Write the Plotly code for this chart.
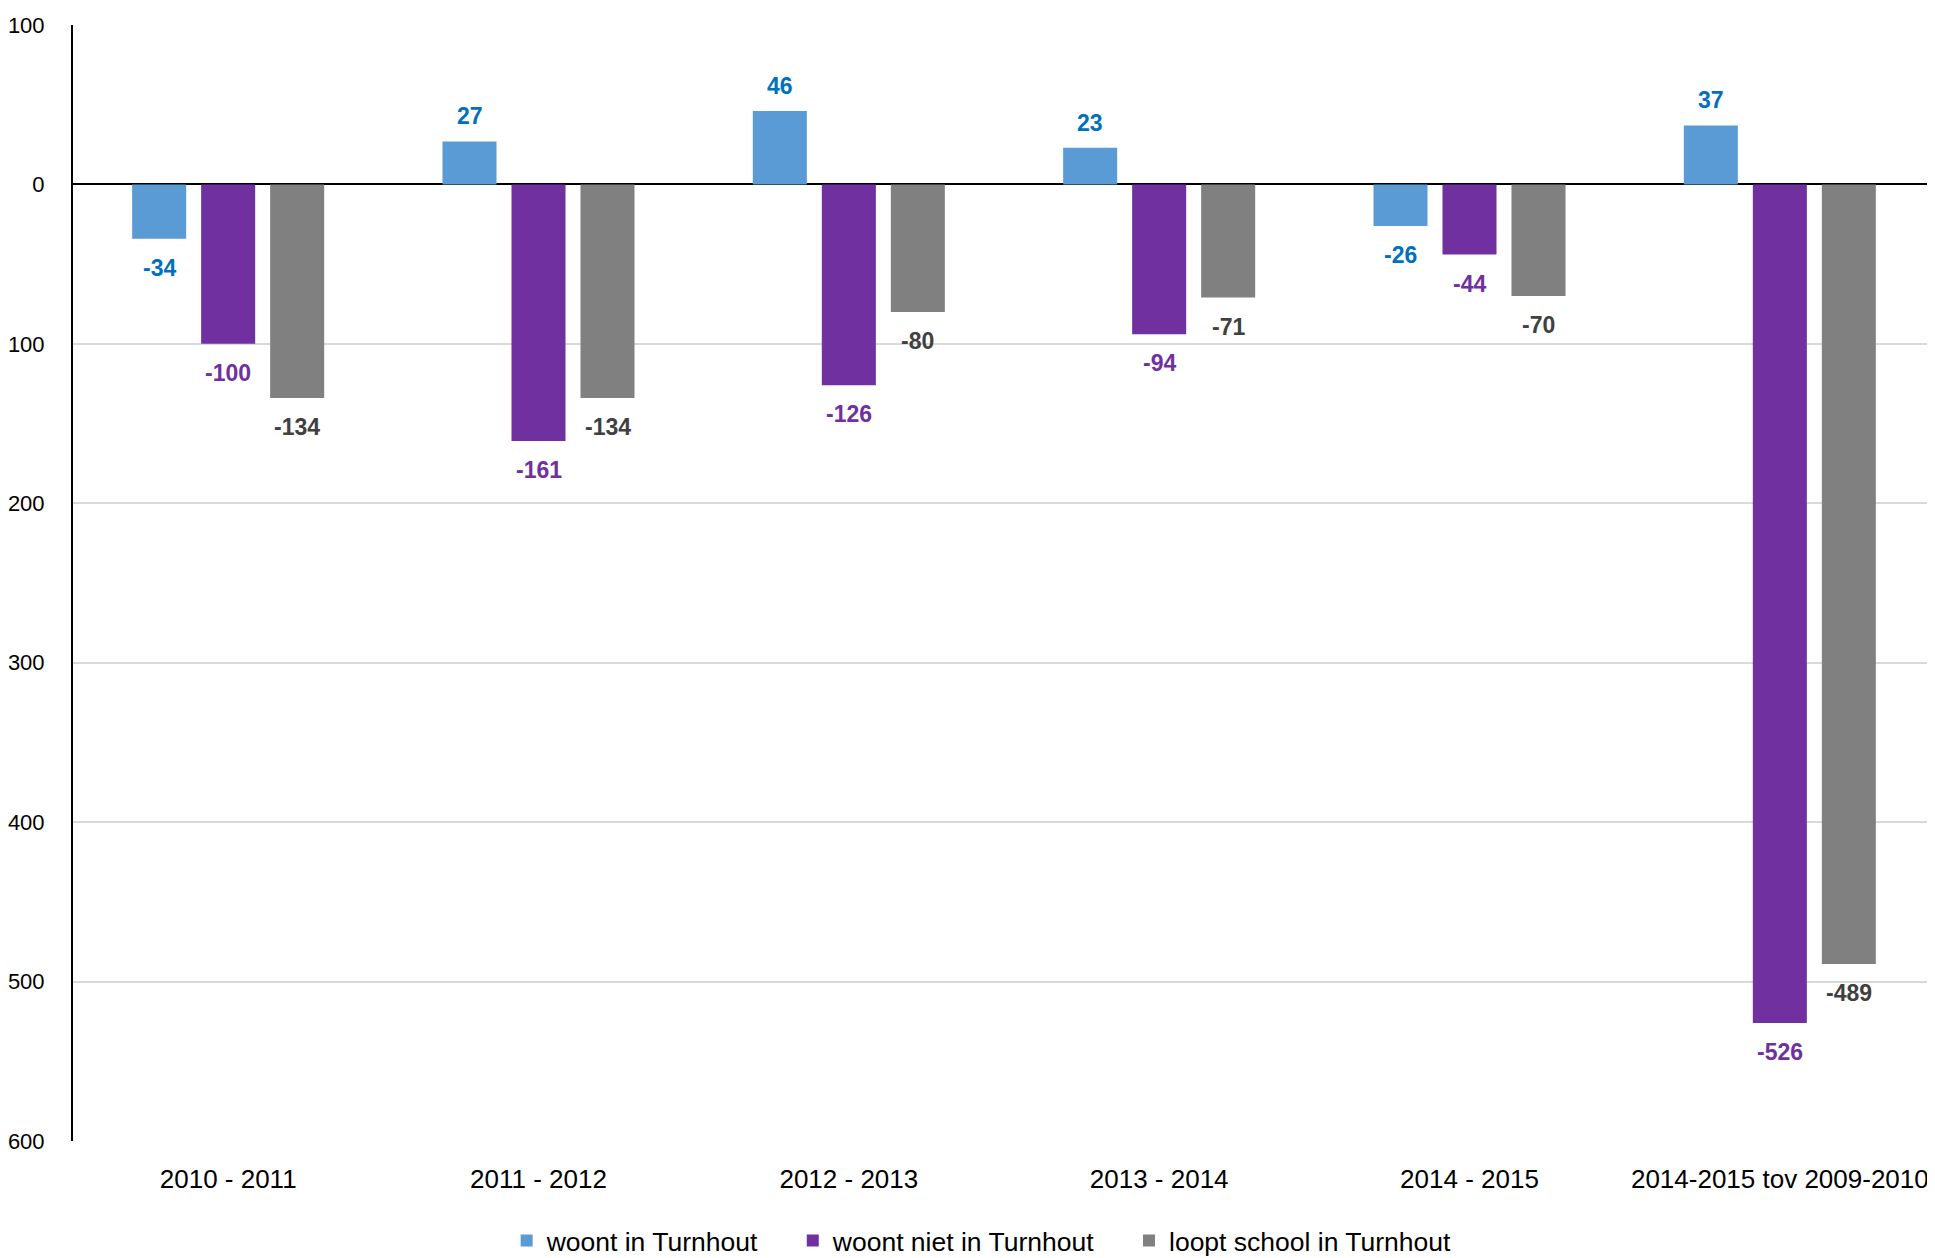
import plotly.graph_objects as go

categories = ["2010 - 2011", "2011 - 2012", "2012 - 2013", "2013 - 2014", "2014 - 2015", "2014-2015 tov 2009-2010"]
series_names = ["woont in Turnhout", "woont niet in Turnhout", "loopt school in Turnhout"]
woont_in = [-34, 27, 46, 23, -26, 37]
woont_niet = [-100, -161, -126, -94, -44, -526]
loopt_school = [-134, -134, -80, -71, -70, -489]
tick_vals = [100, 0, -100, -200, -300, -400, -500, -600]
tick_text = ["100", "0", "100", "200", "300", "400", "500", "600"]

bar_colors = ["#5B9BD5", "#7030A0", "#808080"]
label_colors = ["#0070C0", "#7030A0", "#404040"]
FONT = "Liberation Sans Narrow, Arial Narrow, Liberation Sans, Arial, sans-serif"
PAD = "\u00a0" * 4

fig = go.Figure()
all_series = [woont_in, woont_niet, loopt_school]
for k, (name, vals, col) in enumerate(zip(series_names, all_series, bar_colors)):
    label = name + (PAD if k < len(series_names) - 1 else "")
    fig.add_trace(go.Bar(x=categories, y=vals, name=label, marker_color=col,
                         marker_line_width=0))

# data labels
slot_px = 69
for i, (vals, lc) in enumerate(zip(all_series, label_colors)):
    for c, v in zip(categories, vals):
        fig.add_annotation(x=c, y=v, text="<b>%d</b>" % v, showarrow=False,
                           xshift=(i - 1) * slot_px,
                           yanchor="bottom" if v > 0 else "top",
                           yshift=10 if v > 0 else -14,
                           font=dict(family=FONT, size=23, color=lc))

fig.update_layout(
    width=1927, height=1258,
    margin=dict(l=65, r=0, t=17, b=125),
    paper_bgcolor="white", plot_bgcolor="white",
    barmode="group", bargap=0.333, bargroupgap=0.217,
    font=dict(family=FONT, size=26, color="#000000"),
    showlegend=True,
    legend=dict(orientation="h", x=0.488, xanchor="center", y=-0.0895, yanchor="middle",
                font=dict(family=FONT, size=26.5, color="#000000"),
                itemsizing="constant", traceorder="normal", itemwidth=30),
)
fig.update_xaxes(showgrid=False, showline=False, ticks="", tickfont=dict(family=FONT, size=26),
                 zeroline=False, automargin=False, ticklabelstandoff=20)
fig.update_yaxes(range=[-600, 100], tickvals=tick_vals, ticktext=tick_text,
                 showgrid=True, gridcolor="#D9D9D9", gridwidth=2,
                 zeroline=True, zerolinecolor="#000000", zerolinewidth=2,
                 showline=True, linecolor="#000000", linewidth=2,
                 ticks="", tickfont=dict(family=FONT, size=22), ticklabelstandoff=22,
                 automargin=False)

fig.write_html("out.html")
